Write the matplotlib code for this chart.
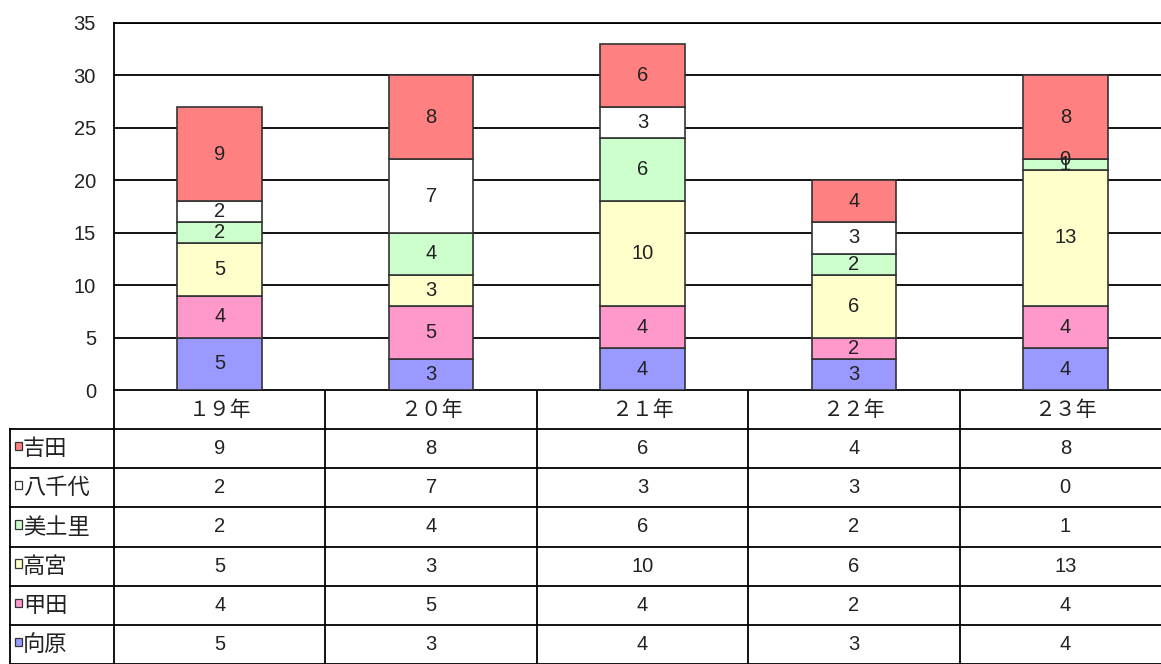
import matplotlib

matplotlib.use("Agg")

import matplotlib.pyplot as plt
from matplotlib.patches import Rectangle

plt.rcParams["font.family"] = ["Liberation Sans", "Noto Sans CJK JP", "DejaVu Sans"]
cjk = ["Noto Sans CJK JP", "DejaVu Sans"]

years = ["１９年", "２０年", "２１年", "２２年", "２３年"]
# bottom to top stacking order
series_names = ["向原", "甲田", "高宮", "美土里", "八千代", "吉田"]
mukaihara = [5, 3, 4, 3, 4]
koda = [4, 5, 4, 2, 4]
takamiya = [5, 3, 10, 6, 13]
midori = [2, 4, 6, 2, 1]
yachiyo = [2, 7, 3, 3, 0]
yoshida = [9, 8, 6, 4, 8]
series_values = [mukaihara, koda, takamiya, midori, yachiyo, yoshida]
series_colors = ["#9999ff", "#ff99cc", "#ffffcc", "#ccffcc", "#ffffff", "#ff8080"]
y_ticks = [0, 5, 10, 15, 20, 25, 30, 35]

W, H = 1161, 664
fig = plt.figure(figsize=(W / 100, H / 100), dpi=100)

# plot area in pixels
left_px, right_px = 114, 1171
top_px, zero_px = 23, 390
axis = fig.add_axes([left_px / W, 1 - zero_px / H, (right_px - left_px) / W, (zero_px - top_px) / H])

x = list(range(len(years)))
bottoms = [0] * len(years)
for name, values, color in zip(series_names, series_values, series_colors):
    axis.bar(x, values, bottom=bottoms, width=0.4, color=color,
             edgecolor="#333333", linewidth=1.2, zorder=3)
    for xi, v, b in zip(x, values, bottoms):
        axis.text(xi, b + v / 2, str(v), ha="center", va="center",
                  fontsize=14.5, color="#222222", zorder=4)
    bottoms = [b + v for b, v in zip(bottoms, values)]

axis.set_xlim(-0.5, len(years) - 0.5)
axis.set_ylim(0, 35)
axis.set_yticks(y_ticks)
axis.set_yticklabels([str(t) for t in y_ticks], fontsize=14.5, color="#222222")
axis.tick_params(axis="y", length=0, pad=13)
axis.set_xticks([])
axis.grid(True, axis="y", color="black", linewidth=1.3, zorder=1)
for side in ["right", "bottom"]:
    axis.spines[side].set_visible(False)
for side in ["left", "top"]:
    axis.spines[side].set_linewidth(1.3)

# data table below
table = fig.add_axes([0, 0, 1, (H - zero_px) / H])
col_w = (right_px - left_px) / len(years)
table.set_xlim(-0.5 - left_px / col_w, -0.5 + (W - left_px) / col_w)
n_rows = len(series_names) + 1
table.set_ylim(n_rows, 0)
table.axis("off")

label_left = -0.5 - (left_px - 10) / col_w
lw = 1.3
# horizontal lines
table.plot([-0.5, 4.6], [0, 0], color="black", lw=lw)
for r in range(1, n_rows + 1):
    table.plot([label_left, 4.6], [r, r], color="black", lw=lw)
# vertical lines
for c in range(len(years) + 1):
    table.plot([c - 0.5, c - 0.5], [0, n_rows], color="black", lw=lw)
table.plot([label_left, label_left], [1, n_rows], color="black", lw=lw)

for xi, year in zip(x, years):
    table.text(xi, 0.5, year, ha="center", va="center", fontsize=15,
               family=cjk, color="#222222")

for r, (name, values, color) in enumerate(
    zip(series_names[::-1], series_values[::-1], series_colors[::-1]), start=1
):
    table.add_patch(Rectangle((label_left + 5 / col_w, r + 0.5 - 0.17), 7 / col_w, 0.21,
                              facecolor=color, edgecolor="#333333", lw=0.9))
    table.text(label_left + 13 / col_w, r + 0.5, name, ha="left", va="center",
               fontsize=16, family=cjk, color="#222222")
    for xi, v in zip(x, values):
        table.text(xi, r + 0.5, str(v), ha="center", va="center",
                   fontsize=14.5, color="#222222")

fig.savefig("out.png", dpi=100)
